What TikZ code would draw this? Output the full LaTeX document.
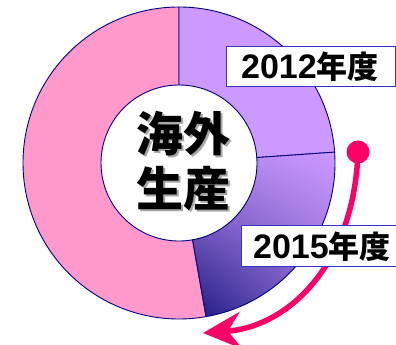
\documentclass[tikz,border=0pt]{standalone}
\usepackage{fontspec}
\newfontfamily\cjk{Noto Sans CJK JP}
\newfontfamily\digf{Liberation Sans}
\usetikzlibrary{arrows.meta,shadings}
\definecolor{pinkw}{HTML}{FF99CC}
\definecolor{purpw}{HTML}{CC99FF}
\definecolor{navyw}{HTML}{1C1A80}
\definecolor{edgew}{HTML}{000080}
\definecolor{boxw}{HTML}{3333CC}
\definecolor{arroww}{HTML}{FF0066}
\newcommand\yeartxt[1]{{\digf\bfseries\fontsize{34}{34}\selectfont #1}{\cjk\bfseries\fontsize{31}{31}\selectfont 年度}}
\newcommand\shadowed[1]{\makebox[0pt][l]{\hspace{2pt}\raisebox{-2pt}{\color{black!35}#1}}#1}
\tikzset{
  wedge/.style={draw=edgew, line width=0.9pt},
  yearbox/.style={draw=boxw, line width=1.4pt, fill=white, inner sep=0pt},
  yeartext/.style={text=black, inner sep=0pt},
  centertext/.style={font=\cjk\bfseries\fontsize{47}{55}\selectfont, align=center, inner sep=0pt},
}
\begin{document}
\begin{tikzpicture}[x=1pt,y=1pt]
\useasboundingbox (0,0) rectangle (396,345);
\coordinate (C) at (179,182);
\def\Ro{156}
\def\Ri{78}
% pink wedge (90 -> 280)
\path[wedge, fill=pinkw] ([shift={(90:\Ro)}]C) arc[start angle=90,end angle=280,radius=\Ro]
  -- ([shift={(280:\Ri)}]C) arc[start angle=280,end angle=90,radius=\Ri] -- cycle;
% 2012 wedge (4 -> 90)
\path[wedge, fill=purpw] ([shift={(4:\Ro)}]C) arc[start angle=4,end angle=90,radius=\Ro]
  -- ([shift={(90:\Ri)}]C) arc[start angle=90,end angle=4,radius=\Ri] -- cycle;
% 2015 wedge (-80 -> 4), shaded
\shade[lower left=navyw, upper right=purpw, upper left=purpw!85!navyw, lower right=purpw!65!navyw]
  ([shift={(-80:\Ro)}]C) arc[start angle=-80,end angle=4,radius=\Ro]
  -- ([shift={(4:\Ri)}]C) arc[start angle=4,end angle=-80,radius=\Ri] -- cycle;
\draw[wedge] ([shift={(-80:\Ro)}]C) arc[start angle=-80,end angle=4,radius=\Ro]
  -- ([shift={(4:\Ri)}]C) arc[start angle=4,end angle=-80,radius=\Ri] -- cycle;
% center text with shadow
\node[centertext] (center) at (183,182.5) {\shadowed{海外}\\\shadowed{生産}};
% labels
\node[yearbox, minimum width=169pt, minimum height=40pt, anchor=south west] (b12) at (226,258) {};
\node[yeartext] (t12) at (310,278) {\yeartxt{2012}};
% arrow
\coordinate (tip) at (203,12);
\fill[arroww] (358,193) circle[radius=11.5] node (dot) {};
\draw[arroww, line width=5.5pt, -{Stealth[length=38pt,width=37pt,inset=13pt]}]
  (dot.center) .. controls (354,80) and (288,18) .. (tip);
\node[yearbox, minimum width=160pt, minimum height=41pt, anchor=south west] (b15) at (241,78) {};
\node[yeartext] (t15) at (322,98.5) {\yeartxt{2015}};
\end{tikzpicture}
\end{document}
